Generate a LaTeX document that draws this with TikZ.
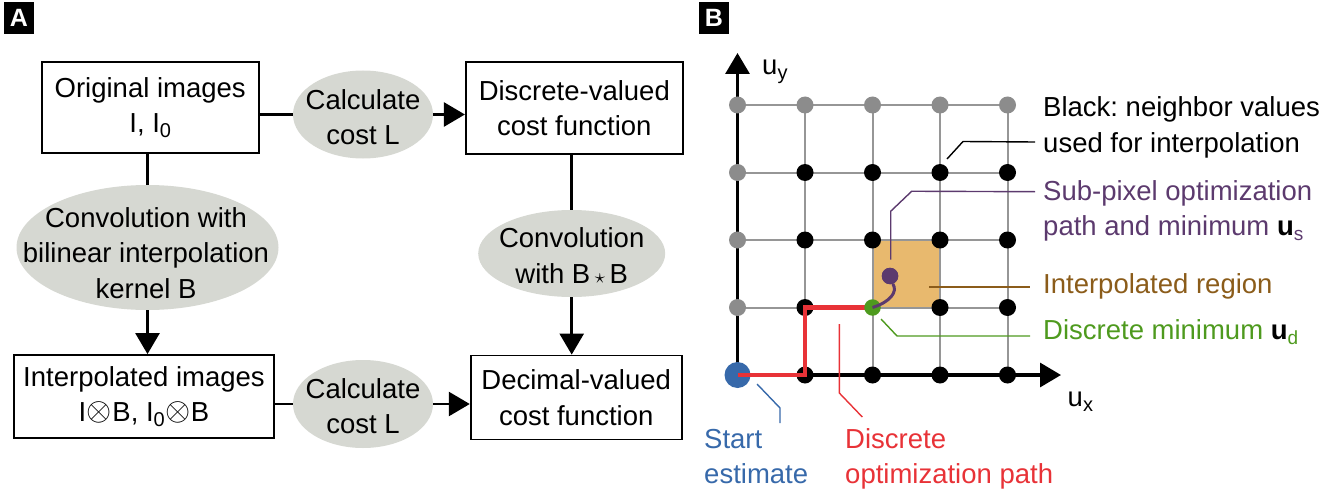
\documentclass[tikz,border=0pt]{standalone}
\usepackage{graphicx}
\usepackage{fontspec}
\setmainfont{Liberation Sans}
\frenchspacing
\usetikzlibrary{arrows.meta,shapes.geometric,calc}
\definecolor{ellfill}{RGB}{214,216,210}
\definecolor{dotgray}{RGB}{140,140,140}
\definecolor{gridgray}{RGB}{150,150,150}
\definecolor{sqfill}{RGB}{232,185,110}
\definecolor{purp}{RGB}{92,58,110}
\definecolor{brn}{RGB}{139,92,26}
\definecolor{grn}{RGB}{78,154,30}
\definecolor{blu}{RGB}{55,105,170}
\definecolor{redc}{RGB}{232,50,55}
\newcommand\lo[1]{\raisebox{-5pt}{\fontsize{20}{20}\selectfont #1}}
\newcommand\slo[1]{\raisebox{-5pt}{\fontsize{19}{19}\selectfont #1}}
\newcommand\otim{\kern0.5pt\raisebox{1pt}{\scalebox{1.3}{$\otimes$}}\kern0.5pt}
\begin{document}
\begin{tikzpicture}[x=1pt,y=-1pt,
  font=\fontsize{27.5}{35.5}\selectfont,
  box/.style={draw, line width=1.8pt, inner sep=0pt, align=center},
  ell/.style={ellipse, fill=ellfill, inner sep=0pt},
  etext/.style={align=center, inner sep=0pt},
  conn/.style={line width=2.6pt},
  arr/.style={conn, -{Triangle[length=21pt,width=24pt]}},
  panel/.style={fill=black, text=white, font=\fontsize{25}{25}\selectfont\bfseries, minimum width=30pt, minimum height=32pt, inner sep=0pt},
  gridline/.style={gridgray, line width=2pt},
  axisline/.style={line width=3.2pt, -{Triangle[length=21pt,width=24pt]}},
  gdot/.style={circle, fill=dotgray, minimum size=17pt, inner sep=0pt},
  bdot/.style={circle, fill=black, minimum size=17pt, inner sep=0pt},
  leader/.style={line width=1.4pt},
  lbl/.style={anchor=base west, inner sep=0pt}]
\useasboundingbox (0,0) rectangle (1329,492);

% ---------- Panel A ----------
\node[panel] (labA) at (19,18) {A};
\node[box, minimum width=217pt, minimum height=91pt] (orig) at (150.2,107.7) {Original images\\I, I\lo{0}};
\node[box, minimum width=217pt, minimum height=92pt] (disc) at (574.3,108) {Discrete-valued\\cost function};
\node[box, minimum width=260pt, minimum height=83pt] (interp) at (144,396.5) {Interpolated images\\I\otim B, I\lo{0}\otim B};
\node[box, minimum width=211pt, minimum height=84pt] (dec) at (576.2,397.5) {Decimal-valued\\cost function};

\node[ell, minimum width=140pt, minimum height=88pt] (calc1) at (363,114.5) {};
\node[etext] (calc1t) at (363,117) {Calculate\\cost L};
\node[ell, minimum width=262pt, minimum height=125pt] (conv1) at (147.5,247.5) {};
\node[etext] (conv1t) at (146,253) {Convolution with\\bilinear interpolation\\kernel B};
\node[ell, minimum width=187pt, minimum height=87pt] (conv2) at (571.7,253.5) {};
\node[etext] (conv2t) at (571.7,255.5) {Convolution\\with B\,$\scriptstyle\star$\,B};
\node[ell, minimum width=140pt, minimum height=88pt] (calc2) at (363,404) {};
\node[etext] (calc2t) at (363,406) {Calculate\\cost L};

\draw[conn] (orig.east |- calc1) -- (calc1.west);
\draw[arr] (calc1.east) -- (calc1.east -| disc.west);
\draw[conn] (orig.south -| conv1) -- (conv1.north);
\draw[arr] (conv1.south) -- (conv1.south |- interp.north);
\draw[conn] (disc.south -| conv2) -- (conv2.north);
\draw[arr] (conv2.south) -- (conv2.south |- dec.north);
\draw[conn] (interp.east |- calc2) -- (calc2.west);
\draw[arr] (calc2.east) -- (calc2.east -| dec.west);

% ---------- Panel B ----------
\node[panel] (labB) at (714,18) {B};
\fill[sqfill] (872.5,240) rectangle (940,307.5);
\foreach \i in {1,...,4}
  \draw[gridline] (737.5+67.5*\i,105) -- (737.5+67.5*\i,375);
\foreach \j in {0,...,3}
  \draw[gridline] (737.5,105+67.5*\j) -- (1007.5,105+67.5*\j);
\coordinate (O) at (737.5,375);
\coordinate (ytip) at (737.5,53);
\coordinate (xtip) at (1061,375);
\draw[axisline] (O) -- (ytip);
\draw[axisline] (O) -- (xtip);

\foreach \i in {0,...,4}
  \node[gdot] (d\i0) at (737.5+67.5*\i,105) {};
\foreach \j in {1,2,3}
  \node[gdot] (d0\j) at (737.5,105+67.5*\j) {};
\foreach \i/\j in {1/1,2/1,3/1,4/1,1/2,2/2,3/2,4/2,1/3,3/3,4/3,1/4,2/4,3/4,4/4}
  \node[bdot] (d\i\j) at (737.5+67.5*\i,105+67.5*\j) {};
\node[circle, fill=blu, minimum size=26pt, inner sep=0pt] (d04) at (O) {};
\coordinate (dmin) at (872.5,307.5);

\draw[redc, line width=4.5pt] (d04.center) -| (d13.center) -- (dmin);
\node[circle, fill=grn, minimum size=16.5pt, inner sep=0pt] (d23) at (dmin) {};
\node[circle, fill=purp, minimum size=16.5pt, inner sep=0pt] (us) at (890,276) {};
\draw[purp, line width=3pt] (d23.center) .. controls (890,302) and (898,292) .. (us.-70);
\node[circle, fill=purp, minimum size=16.5pt, inner sep=0pt] at (us) {};

% leaders
\coordinate (eBlack) at (1035,142);
\coordinate (ePurp) at (1035,191.7);
\coordinate (bStart) at (929,287);
\coordinate (eBrown) at (1030,287);
\coordinate (eGreen) at (1030,336);
\coordinate (rStart) at (839.3,324);
\coordinate (rEnd) at (862.3,417);
\coordinate (bEnd) at (780,423);
\draw[leader] ($(d31)+(7,-13.5)$) -- ++(16,-17.5) -- (eBlack);
\draw[leader, purp] ($(us.north)+(0.7,-8)$) -- ++(0,-48.3) -- ++(21,-20) -- (ePurp);
\draw[leader, brn] (bStart) -- (eBrown);
\draw[leader, grn] ($(d23)+(8.5,11.5)$) -- ++(16,17) -- (eGreen);
\draw[leader, redc] (rStart) -- ++(0,69) -- (rEnd);
\draw[leader, blu] ($(d04)+(19.5,9)$) -- ++(23,24) -- (bEnd);

% labels
\node[lbl] (uy) at (762,75) {u\lo{y}};
\node[lbl] (ux) at (1067.5,406.7) {u\lo{x}};
\node[lbl] (tBlack1) at (1043,117) {Black: neighbor values};
\node[lbl] (tBlack2) at (1043,152) {used for interpolation};
\node[lbl, text=purp] (tSub1) at (1043,200) {Sub-pixel optimization};
\node[lbl, text=purp] (tSub2) at (1043,235) {path and minimum \textcolor{black}{\textbf{u}}\slo{s}};
\node[lbl, text=brn] (tInt) at (1043,293.3) {Interpolated region};
\node[lbl, text=grn] (tDisc) at (1043,339) {Discrete minimum \textcolor{black}{\textbf{u}}\slo{d}};
\node[lbl, text=blu] (tStart1) at (704,448) {Start};
\node[lbl, text=blu] (tStart2) at (704,483) {estimate};
\node[lbl, text=redc] (tDP1) at (845,448) {Discrete};
\node[lbl, text=redc] (tDP2) at (845,483) {optimization path};
\end{tikzpicture}
\end{document}
